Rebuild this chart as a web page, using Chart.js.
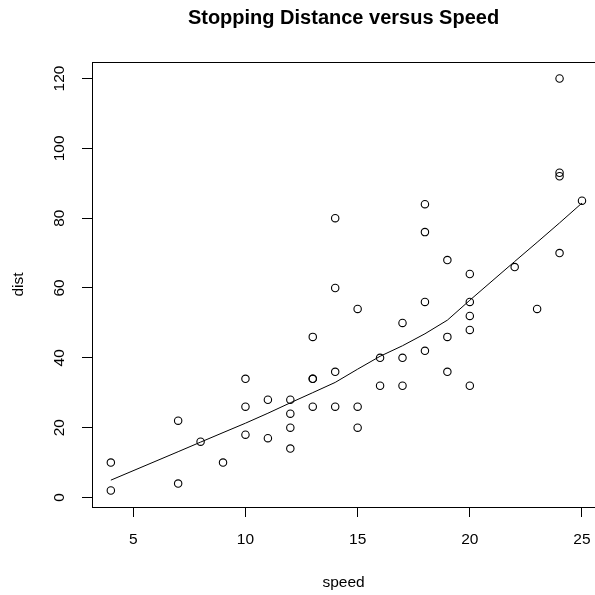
<!DOCTYPE html>
<html>
<head>
<meta charset="utf-8">
<script src="https://cdn.jsdelivr.net/npm/chart.js@4.4.1/dist/chart.umd.min.js"></script>
<style>
html, body { margin: 0; padding: 0; background: #fff; }
</style>
</head>
<body>
<canvas id="ChartCanvas1" width="595" height="595"></canvas>
<script>
// cars data (speed, dist)
const speed = [4, 4, 7, 7, 8, 9, 10, 10, 10, 11, 11, 12, 12, 12, 12, 13, 13, 13, 13, 14, 14, 14, 14, 15, 15, 15, 16, 16, 17, 17, 17, 18, 18, 18, 18, 19, 19, 19, 20, 20, 20, 20, 20, 22, 23, 24, 24, 24, 24, 25];
const dist = [2, 10, 4, 22, 16, 10, 18, 26, 34, 17, 28, 14, 20, 24, 28, 26, 34, 34, 46, 26, 36, 60, 80, 20, 26, 54, 32, 40, 32, 40, 50, 42, 56, 76, 84, 36, 46, 68, 32, 48, 52, 56, 64, 66, 54, 70, 92, 93, 120, 85];

// smoothed line
const lowessX = [4, 7, 8, 9, 10, 11, 12, 13, 14, 15, 16, 17, 18, 19, 20, 22, 23, 24, 25];
const lowessY = [4.97, 13.12, 15.86, 18.58, 21.28, 24.13, 27.12, 30.03, 32.96, 36.76, 40.44, 43.46, 46.89, 50.79, 56.49, 67.59, 73.08, 78.64, 84.33];

const xTicks = [5, 10, 15, 20, 25];
const yTicks = [0, 20, 40, 60, 80, 100, 120];

Initialize();

function Initialize()
{
    const ctx = document.getElementById('ChartCanvas1').getContext('2d');
    const FONT = "'Liberation Sans', Arial, Helvetica, sans-serif";
    Chart.defaults.color = '#000';
    Chart.defaults.font.family = FONT;

    // box around plot region (right side runs off the canvas)
    const boxPlugin = {
        id: 'plotBox',
        afterDraw(chart) {
            const a = chart.chartArea;
            const c = chart.ctx;
            c.save();
            c.strokeStyle = '#000';
            c.lineWidth = 1;
            c.strokeRect(Math.round(a.left) + 0.5, Math.round(a.top) + 0.5, a.right - a.left + 10, Math.round(a.bottom - a.top));
            c.restore();
        }
    };

    new Chart(ctx,
    {
        type: 'scatter',
        data: {
            datasets: [{
                label: 'cars',
                data: speed.map((s, i) => ({x: s, y: dist[i]})),
                pointStyle: 'circle',
                pointRadius: 3.7,
                pointBorderWidth: 1.1,
                pointBorderColor: '#000',
                pointBackgroundColor: 'rgba(0,0,0,0)',
                showLine: false
            }, {
                label: 'lowess',
                data: lowessX.map((s, i) => ({x: s, y: lowessY[i]})),
                showLine: true,
                borderColor: '#000',
                borderWidth: 1,
                pointRadius: 0,
                tension: 0
            }]
        },
        options: {
            responsive: false,
            animation: false,
            events: [],
            layout: { padding: 0, autoPadding: false },
            plugins: {
                legend: { display: false },
                tooltip: { enabled: false },
                title: {
                    display: true,
                    fullSize: false,
                    text: 'Stopping Distance versus Speed',
                    color: '#000',
                    font: { size: 20, weight: 'bold', family: FONT, lineHeight: 1.2 },
                    padding: { top: 6, bottom: 32 }
                }
            },
            scales: {
                x: {
                    type: 'linear',
                    min: 3.16,
                    max: 25.58,
                    afterBuildTicks: s => { s.ticks = xTicks.map(v => ({value: v})); },
                    afterFit: s => { s.height = 88; s.paddingLeft = 0; s.paddingRight = 0; },
                    border: { display: false },
                    grid: { drawOnChartArea: false, drawTicks: true, tickLength: 10, color: '#000', tickColor: '#000' },
                    ticks: { autoSkip: false, maxRotation: 0, padding: 13, font: { size: 15.5 }, color: '#000' },
                    title: { display: true, text: 'speed', font: { size: 15.5 }, color: '#000', padding: { top: 0, bottom: 3 } }
                },
                y: {
                    type: 'linear',
                    min: -2.72,
                    max: 124.72,
                    afterBuildTicks: s => { s.ticks = yTicks.map(v => ({value: v})); },
                    afterFit: s => { s.width = 92; s.paddingTop = 0; s.paddingBottom = 0; },
                    border: { display: false },
                    grid: { drawOnChartArea: false, drawTicks: true, tickLength: 10, color: '#000', tickColor: '#000' },
                    ticks: { autoSkip: false, minRotation: 90, maxRotation: 90, crossAlign: 'center', padding: 9, font: { size: 15.5 }, color: '#000' },
                    title: { display: true, text: 'dist', font: { size: 15.5 }, color: '#000', padding: { top: 9, bottom: 0 } }
                }
            }
        },
        plugins: [boxPlugin]
    });
}
</script>
</body>
</html>
